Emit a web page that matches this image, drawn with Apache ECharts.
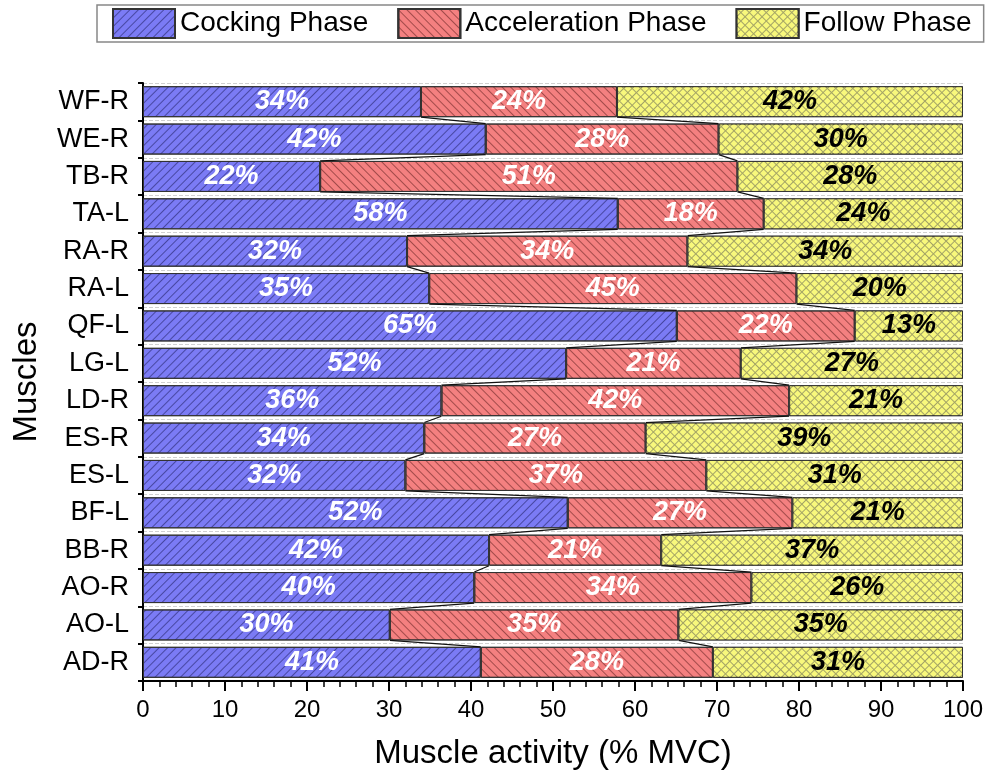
<!DOCTYPE html>
<html>
<head>
<meta charset="utf-8">
<script src="https://cdn.jsdelivr.net/npm/echarts@6/dist/echarts.min.js"></script>
<style>
html,body{margin:0;padding:0;background:#fff;}
#chart{width:989px;height:776px;}
</style>
</head>
<body>
<div id="chart"></div>
<script>
// Categories bottom to top
const muscles = ['AD-R','AO-L','AO-R','BB-R','BF-L','ES-L','ES-R','LD-R','LG-L','QF-L','RA-L','RA-R','TA-L','TB-R','WE-R','WF-R'];
const cocking = [41.2,30.1,40.4,42.2,51.8,32.0,34.3,36.4,51.6,65.1,34.9,32.2,57.9,21.6,41.8,33.9];
const acceleration = [28.3,35.2,33.8,21.0,27.4,36.7,27.0,42.4,21.3,21.7,44.8,34.2,17.8,50.9,28.4,23.9];
const follow = [30.5,34.7,25.8,36.8,20.8,31.3,38.7,21.2,27.1,13.2,20.3,33.6,24.3,27.5,29.8,42.2];
const xTicks = [0,10,20,30,40,50,60,70,80,90,100];
const seriesNames = ['Cocking Phase','Acceleration Phase','Follow Phase'];

const FONT = "'Liberation Sans', Arial, sans-serif";
const BAR_FRAC = 0.83;

// connector data built from the series arrays
const connectors = [];
for (let i = 0; i < muscles.length - 1; i++) {
  const a1 = cocking[i], b1 = cocking[i+1];
  const a2 = cocking[i] + acceleration[i], b2 = cocking[i+1] + acceleration[i+1];
  connectors.push([a1, b1, a2, b2, i]);
}

function lbl(color) {
  return {
    show: true, position: 'inside', color: color,
    fontFamily: FONT, fontSize: 27, fontWeight: 'bold', fontStyle: 'italic',
    formatter: p => Math.round(p.value) + '%'
  };
}

const chart = echarts.init(document.getElementById('chart'), null, {renderer: 'canvas'});
chart.setOption({
  animation: false,
  backgroundColor: '#fff',
  textStyle: {fontFamily: FONT},
  legend: {
    data: seriesNames,
    left: 97, top: 5,
    padding: [3, 12, 3, 15],
    itemWidth: 62, itemHeight: 29, itemGap: 29,
    icon: 'rect',
    borderColor: '#888', borderWidth: 1.5,
    textStyle: {fontFamily: FONT, fontSize: 28, color: '#000'}
  },
  grid: {left: 143, right: 26, top: 83, bottom: 95},
  xAxis: {
    type: 'value', min: xTicks[0], max: xTicks[xTicks.length-1], interval: 10,
    name: 'Muscle activity (% MVC)', nameLocation: 'middle', nameGap: 56,
    nameTextStyle: {fontFamily: FONT, fontSize: 33, color: '#000'},
    axisLine: {show: true, lineStyle: {color: '#000', width: 2}},
    axisTick: {show: true, length: 10, lineStyle: {color: '#000', width: 2}},
    minorTick: {show: true, splitNumber: 5, length: 6, lineStyle: {color: '#000', width: 1.5}},
    splitLine: {show: false},
    axisLabel: {fontFamily: FONT, fontSize: 24, color: '#000', margin: 17}
  },
  yAxis: {
    type: 'category', data: muscles,
    name: 'Muscles', nameLocation: 'middle', nameGap: 100,
    nameTextStyle: {fontFamily: FONT, fontSize: 33, color: '#000'},
    axisLine: {show: true, lineStyle: {color: '#000', width: 2}},
    axisTick: {show: true, length: 5, lineStyle: {color: '#000', width: 2}},
    splitLine: {show: true, lineStyle: {color: '#d0d0d0', type: 'dashed', width: 1}},
    axisLabel: {fontFamily: FONT, fontSize: 27, color: '#000', margin: 14}
  },
  series: [
    {
      name: seriesNames[0], type: 'bar', stack: 'total', barWidth: (BAR_FRAC*100)+'%',
      data: cocking,
      itemStyle: {
        color: '#7b7bf5', borderColor: '#333', borderWidth: 1,
        decal: {symbol: 'rect', symbolSize: 1, dashArrayX: [1, 0], dashArrayY: [1, 5], rotation: -Math.PI/4, color: 'rgba(20,20,80,0.5)'}
      },
      label: lbl('#fff')
    },
    {
      name: seriesNames[1], type: 'bar', stack: 'total', barWidth: (BAR_FRAC*100)+'%',
      data: acceleration,
      itemStyle: {
        color: '#f48080', borderColor: '#333', borderWidth: 1,
        decal: {symbol: 'rect', symbolSize: 1, dashArrayX: [1, 0], dashArrayY: [1, 5], rotation: Math.PI/4, color: 'rgba(80,20,20,0.5)'}
      },
      label: lbl('#fff')
    },
    {
      name: seriesNames[2], type: 'bar', stack: 'total', barWidth: (BAR_FRAC*100)+'%',
      data: follow,
      itemStyle: {
        color: '#a3a365', borderColor: '#333', borderWidth: 1,
        decal: {symbol: 'rect', symbolSize: 1, dashArrayX: [5, 1], dashArrayY: [5, 1], rotation: Math.PI/4, color: '#f8f87c'}
      },
      label: lbl('#000')
    },
    {
      type: 'custom', name: 'connectors', silent: true, z: 5,
      encode: {x: [0, 1, 2, 3], y: 4},
      data: connectors,
      renderItem: function (params, api) {
        const i = api.value(4);
        const band = api.size([0, 1])[1];
        const h = band * BAR_FRAC;
        const children = [];
        for (const [a, b] of [[0, 1], [2, 3]]) {
          const p1 = api.coord([api.value(a), i]);
          const p2 = api.coord([api.value(b), i + 1]);
          children.push({
            type: 'line',
            shape: {x1: p1[0], y1: p1[1] - h/2, x2: p2[0], y2: p2[1] + h/2},
            style: {stroke: '#111', lineWidth: 1.2}
          });
        }
        return {type: 'group', children: children};
      }
    }
  ]
});
</script>
</body>
</html>
